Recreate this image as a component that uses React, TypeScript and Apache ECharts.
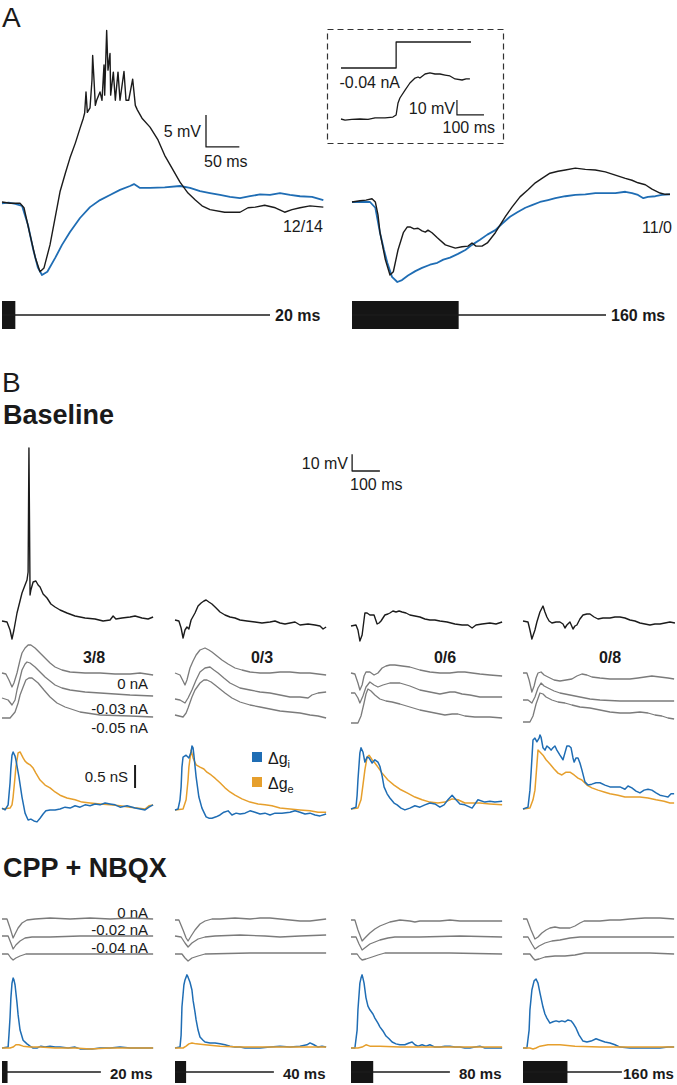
import React, { useEffect, useRef } from "react";
import * as echarts from "echarts";

// ---------------- Panel A (time in ms, membrane potential in mV relative to rest) ----------------
const aLeftBlack = [[0,0],[12,-0.2],[27,-0.2],[33,-0.9],[42,-5.1],[50,-8.7],[57,-10.9],[63,-10.3],[72,-6.7],[80,-2.3],[87,1.6],[95,4.5],[102,6.9],[110,9.2],[117,11.5],[122,13.1],[124,13.9],[126,17.2],[128,14.0],[132,14.7],[135,19.1],[136,22.9],[138,19.1],[140,15.1],[142,15.9],[147,17.2],[150,15.9],[153,21.4],[154,16.7],[157,26.8],[159,20.6],[162,23.2],[163,16.7],[167,20.3],[170,15.9],[174,20.3],[177,15.9],[183,20.4],[186,15.9],[190,15.9],[196,19.2],[200,15.1],[203,14.4],[210,13.1],[222,11.7],[234,9.7],[244,7.3],[255,5.3],[267,3.1],[279,1.4],[290,0.3],[300,-0.6],[312,-1.2],[334,-1.6],[357,-1.6],[369,-0.9],[380,-0.8],[394,-0.5],[410,-0.9],[424,-1.6],[435,-1.2],[447,-0.9],[462,-0.6],[482,-0.8]];
const aLeftBlue = [[0,-0.2],[10,-0.1],[20,-0.3],[30,-0.6],[39,-3.6],[47,-7.5],[54,-10.3],[60,-11.4],[68,-10.9],[80,-8.7],[90,-6.7],[102,-4.7],[117,-2.5],[132,-0.8],[147,0.3],[162,1.1],[177,1.9],[192,2.5],[198,2.8],[207,2.2],[222,2.2],[244,2.3],[267,2.5],[282,2.2],[297,1.7],[312,1.4],[327,1.1],[342,0.8],[357,0.6],[372,0.9],[387,1.2],[402,1.1],[417,1.4],[432,1.1],[447,0.9],[465,0.8],[482,0.3]];
const aRightBlack = [[0,0],[12,0.2],[21,0.3],[30,0.5],[35,0],[39,-2.0],[42,-4.8],[50,-9.0],[57,-11.4],[62,-10.9],[69,-7.5],[77,-4.8],[83,-3.9],[87,-3.9],[93,-4.2],[99,-4.1],[105,-4.5],[110,-4.7],[114,-4.4],[120,-4.8],[128,-5.6],[140,-6.7],[155,-7.2],[165,-7.0],[174,-6.9],[180,-6.4],[186,-6.9],[195,-6.9],[203,-6.4],[215,-4.8],[230,-2.3],[240,-0.8],[252,0.8],[264,1.9],[275,3.0],[285,3.7],[297,4.5],[309,4.8],[320,5.0],[335,5.3],[350,5.1],[365,5.0],[380,4.7],[395,4.2],[410,3.7],[420,3.4],[429,3.0],[440,2.7],[450,2.0],[462,1.4],[470,1.2],[477,1.2]];
const aRightBlue = [[0,0],[12,0],[27,0],[35,-0.9],[42,-4.8],[48,-7.5],[53,-9.5],[60,-11.7],[68,-12.5],[75,-12.2],[84,-11.5],[95,-10.8],[105,-10.3],[117,-9.8],[128,-9.5],[137,-9.0],[147,-8.7],[159,-8.1],[170,-7.5],[180,-6.7],[192,-5.9],[203,-5.1],[215,-4.4],[225,-3.4],[237,-2.3],[248,-1.6],[260,-0.9],[270,-0.5],[282,0],[294,0.3],[305,0.6],[320,0.9],[335,1.1],[350,1.2],[365,1.4],[380,1.4],[395,1.4],[410,1.6],[420,1.4],[429,1.1],[437,0.6],[444,0.8],[455,0.9],[465,1.1],[477,1.2]];
const aCounts = ["12/14", "11/0"];
const aStimDur = [20, 160];
const aStimLabels = ["20 ms", "160 ms"];

// inset: current step (nA) and voltage response (mV)
const insetStep = [[0,-0.04],[204,-0.04],[204,0],[481,0]];
const insetResponse = [[0,0],[15,-0.7],[40,-0.3],[70,0],[100,-0.2],[126,0.7],[163,0.7],[192,1.3],[204,2.7],[211,10.7],[218,14.0],[237,19.3],[255,24.0],[274,27.3],[285,28.0],[292,27.3],[311,30.0],[329,30.7],[348,30.0],[366,30.0],[385,29.3],[403,28.7],[422,26.7],[448,26.0],[463,26.7],[477,26.7]];

// ---------------- Panel B, Baseline (ms, mV / nS) ----------------
const bCounts = ["3/8", "0/3", "0/6", "0/8"];
const bBlack20 = [[0,0],[18,-0.6],[29,-5.4],[36,-10.8],[43,-5.4],[54,4.8],[72,16.8],[83,21.6],[90,24.6],[94,29.4],[97,103.8],[101,15.6],[104,18.6],[112,23.4],[122,24],[130,21.6],[137,20.4],[148,16.2],[162,13.8],[176,10.2],[191,8.4],[209,6.6],[234,4.8],[263,3],[299,1.8],[335,1.2],[364,0],[389,0.6],[400,3],[410,1.2],[432,1.8],[461,2.4],[479,3],[504,1.8],[526,1.2],[544,2.4]];
const bBlack40 = [[0,0.6],[14,0],[22,-4.2],[29,-10.2],[36,-5.4],[43,-3.6],[50,-4.8],[58,0.6],[72,4.8],[83,9],[94,10.8],[104,12],[112,12.6],[122,11.4],[133,10.2],[148,7.8],[162,5.4],[180,3.6],[198,2.4],[216,1.8],[234,0.6],[259,0],[288,-0.6],[313,-1.2],[342,-0.6],[360,0],[378,-1.2],[396,-1.8],[414,-1.2],[432,-0.6],[450,-2.4],[479,-1.8],[504,-2.4],[522,-3],[533,-4.8],[544,-3.6]];
const bBlack80 = [[0,-3],[18,-2.4],[25,-5.4],[32,-12],[40,-8.4],[50,4.8],[58,4.8],[68,3.6],[83,3.6],[94,-1.8],[101,-1.2],[108,0],[122,3.6],[133,4.2],[140,4.8],[151,6],[162,5.4],[173,6],[184,5.4],[198,4.8],[212,3.6],[230,3],[248,2.4],[266,1.2],[284,0.6],[302,0.6],[320,0],[346,-0.6],[374,-1.8],[400,-2.4],[421,-2.4],[436,-4.2],[450,-2.4],[472,-1.8],[500,-1.2],[522,-1.8],[544,-0.6]];
const bBlack160 = [[0,0],[18,-0.6],[25,-5.4],[32,-10.8],[43,-5.4],[50,-0.6],[61,5.4],[72,9],[79,5.4],[86,2.4],[94,0],[104,-1.2],[119,-0.6],[133,-0.6],[144,-1.8],[151,-4.2],[158,-2.4],[169,-0.6],[180,-4.8],[187,-3],[194,-2.4],[205,1.2],[216,3.6],[230,4.2],[241,4.2],[256,2.4],[270,1.2],[288,1.8],[313,1.8],[331,2.4],[349,2.4],[367,1.8],[385,0.6],[403,0],[421,-1.2],[439,-1.8],[457,-2.4],[475,-1.8],[493,-1.8],[511,-1.2],[529,-0.6],[547,-1.2]];

const bGray20 = [
  [[0,0],[14,-0.6],[25,-4.2],[36,-8.4],[43,-6],[54,0],[65,7.8],[72,12],[83,15],[94,16.8],[104,16.8],[119,15],[137,12],[155,9],[173,6],[191,3.6],[216,1.8],[245,0.6],[299,0],[353,0],[407,-0.6],[461,-0.6],[497,0],[544,-1.2]],
  [[0,-15],[22,-16.2],[36,-19.2],[47,-16.2],[54,-10.2],[65,-3],[72,1.8],[83,5.4],[90,6.6],[101,6],[119,3.6],[137,0.6],[155,-2.4],[173,-4.8],[191,-7.2],[216,-9],[245,-10.2],[299,-11.4],[353,-12],[407,-12.6],[461,-13.2],[544,-13.8]],
  [[0,-27],[29,-27],[47,-23.4],[58,-18],[65,-13.2],[76,-8.4],[86,-4.2],[97,-3],[108,-3],[130,-6],[151,-10.2],[173,-14.4],[198,-18],[227,-20.4],[281,-23.4],[353,-25.2],[461,-25.8],[544,-26.4]],
];
const bGray40 = [
  [[0,0],[18,-1.2],[29,-4.8],[36,-7.2],[43,-4.2],[54,3],[65,7.2],[76,10.8],[90,13.8],[108,15],[122,13.8],[133,12.6],[151,10.2],[169,7.8],[191,5.4],[216,3],[241,1.8],[270,0.6],[306,0],[342,0],[378,0.6],[414,0.6],[450,0],[486,0],[515,-0.6],[544,-1.2]],
  [[0,-15.6],[18,-16.2],[36,-18],[47,-15],[61,-10.2],[76,-4.2],[90,0.6],[108,3],[126,3.6],[140,1.8],[155,0],[176,-3],[198,-6],[234,-9],[270,-10.2],[306,-11.4],[342,-12],[378,-13.2],[414,-14.4],[450,-14.4],[479,-15],[493,-13.2],[515,-12],[544,-11.4]],
  [[0,-25.2],[29,-26.4],[40,-24],[47,-21],[61,-14.4],[72,-10.2],[90,-6],[104,-4.2],[115,-4.2],[130,-5.4],[144,-7.2],[162,-9.6],[180,-12],[205,-15],[234,-17.4],[270,-19.2],[306,-20.4],[342,-21.6],[378,-22.8],[414,-23.4],[450,-24],[486,-25.2],[515,-25.8],[544,-27]],
];
const bGray80 = [
  [[0,0],[14,-0.6],[25,-6],[32,-10.2],[40,-7.2],[47,-1.8],[54,0.6],[68,0.6],[83,-1.2],[97,0],[112,3],[126,4.2],[140,4.8],[158,4.8],[184,4.2],[212,3.6],[248,1.8],[284,0.6],[320,0],[356,0],[385,0.6],[410,0.6],[436,0],[464,-0.6],[500,-1.2],[544,-1.8]],
  [[0,-12],[14,-12],[25,-15],[32,-18],[43,-13.8],[54,-8.4],[68,-5.4],[83,-7.2],[97,-8.4],[115,-7.2],[140,-6],[176,-6],[212,-7.8],[248,-10.2],[284,-11.4],[320,-12.6],[356,-11.4],[374,-11.4],[400,-12.6],[428,-13.2],[464,-14.4],[500,-14.4],[544,-14.4]],
  [[0,-30],[25,-30],[36,-25.8],[47,-18],[54,-12.6],[61,-9.6],[72,-10.8],[86,-13.2],[104,-15.6],[126,-16.8],[148,-17.4],[176,-18.6],[212,-20.4],[248,-22.2],[284,-23.4],[338,-25.2],[364,-24.6],[385,-24.6],[410,-25.8],[446,-26.4],[500,-26.4],[544,-27]],
];
const bGray160 = [
  [[0,0],[14,0],[22,-4.2],[32,-11.4],[40,-7.8],[47,-3],[54,0],[65,0.6],[76,-1.2],[90,-2.4],[112,-4.2],[133,-4.8],[155,-4.2],[176,-3.6],[194,-1.8],[212,-0.6],[230,-1.2],[248,-2.4],[277,-3],[313,-3.6],[349,-3.6],[385,-3.6],[414,-3],[439,-2.4],[464,-1.8],[493,-2.4],[522,-3],[544,-3.6]],
  [[0,-16.2],[18,-16.2],[32,-18],[43,-14.4],[54,-9],[65,-6],[76,-7.8],[90,-9],[112,-10.8],[133,-12],[169,-13.2],[205,-14.4],[241,-15.6],[277,-16.2],[349,-16.8],[457,-16.8],[544,-16.8]],
  [[0,-29.4],[25,-29.4],[36,-25.8],[47,-18.6],[61,-12],[72,-12.6],[83,-14.4],[104,-16.2],[126,-17.4],[151,-18],[176,-19.2],[205,-20.4],[241,-21],[277,-22.2],[313,-23.4],[349,-24],[385,-24],[421,-23.4],[450,-24],[475,-25.2],[500,-25.8],[522,-27],[544,-27.6]],
];
const bHolding = ["0 nA", "-0.03 nA", "-0.05 nA"];

const bGi = [
  [[0,0.02],[11,-0.02],[22,0.09],[29,0.57],[32,0.89],[36,1.17],[40,1.24],[47,1.15],[50,1.07],[61,0.70],[72,0.26],[83,-0.09],[94,-0.24],[104,-0.22],[115,-0.26],[126,-0.28],[137,-0.20],[148,-0.11],[158,-0.04],[173,-0.02],[191,-0.02],[209,0],[227,0.04],[245,0.02],[263,0.07],[281,0.04],[299,0.09],[317,0.07],[335,0.11],[353,0.09],[371,0.13],[389,0.11],[407,0.09],[425,0.04],[450,0.07],[479,0.02],[497,0],[515,-0.02],[529,0.04],[544,0.09]],
  [[0,-0.02],[11,0],[18,0.2],[22,0.48],[25,0.91],[29,1.13],[40,1.17],[50,1.11],[58,1.24],[61,1.37],[65,1.33],[68,1.17],[76,0.70],[86,0.26],[97,0.02],[112,-0.17],[122,-0.20],[133,-0.20],[148,-0.17],[162,-0.13],[176,-0.07],[191,-0.04],[205,-0.13],[220,-0.09],[234,-0.11],[252,-0.09],[270,-0.04],[288,-0.07],[306,-0.11],[324,-0.09],[342,-0.13],[360,-0.09],[385,-0.09],[414,-0.07],[432,-0.04],[450,-0.07],[468,-0.11],[486,-0.09],[504,-0.13],[522,-0.15],[544,-0.11]],
  [[0,0],[18,0.04],[22,0.30],[25,0.63],[32,1.22],[36,1.33],[43,1.24],[50,1.02],[58,1.13],[65,1.11],[76,1.0],[86,1.07],[97,1.02],[104,0.93],[112,0.72],[119,0.48],[130,0.33],[140,0.24],[155,0.13],[166,0.09],[180,0.02],[194,-0.02],[212,0.02],[230,0.07],[248,0.04],[266,0.09],[284,0.13],[302,0.11],[320,0.04],[335,0.09],[349,0.2],[364,0.30],[378,0.2],[392,0.11],[410,0.09],[436,0.02],[457,0.2],[482,0.15],[500,0.17],[518,0.15],[544,0.17]],
  [[0,0],[18,0.04],[25,0.41],[29,0.78],[36,1.50],[43,1.54],[50,1.46],[58,1.54],[61,1.61],[65,1.56],[72,1.33],[79,1.28],[86,1.37],[94,1.33],[101,1.28],[108,1.33],[115,1.37],[122,1.28],[133,1.17],[144,1.07],[151,1.22],[158,1.37],[166,1.37],[173,1.33],[180,1.11],[184,1.02],[191,1.11],[198,1.11],[205,1.0],[212,0.85],[223,0.59],[234,0.52],[248,0.54],[263,0.57],[277,0.57],[295,0.52],[313,0.48],[331,0.48],[349,0.48],[367,0.43],[378,0.50],[392,0.46],[407,0.39],[421,0.35],[436,0.41],[450,0.43],[464,0.41],[479,0.35],[493,0.30],[508,0.28],[522,0.26],[533,0.33],[544,0.33]],
];
const bGe = [
  [[0,0],[29,0.02],[36,0.09],[40,0.26],[47,0.70],[50,0.91],[58,1.22],[65,1.24],[76,1.11],[83,1.04],[90,1.0],[101,0.96],[112,0.89],[122,0.78],[137,0.63],[155,0.52],[173,0.46],[191,0.37],[209,0.30],[234,0.24],[263,0.2],[288,0.15],[317,0.13],[353,0.11],[389,0.09],[425,0.07],[461,0.04],[486,0.02],[515,0],[529,0.07],[544,0.09]],
  [[0,-0.02],[29,0],[40,0.2],[47,0.63],[50,0.91],[58,1.28],[65,1.11],[76,0.96],[90,0.91],[104,0.87],[115,0.80],[130,0.74],[144,0.67],[162,0.57],[180,0.46],[198,0.37],[216,0.30],[241,0.22],[270,0.15],[299,0.11],[324,0.09],[349,0.07],[378,0.02],[414,0],[450,-0.02],[486,-0.04],[515,-0.07],[544,-0.07]],
  [[0,0],[25,0.02],[36,0.2],[43,0.52],[50,0.85],[58,1.13],[65,1.17],[76,1.07],[86,1.0],[97,0.91],[112,0.78],[133,0.63],[155,0.52],[176,0.43],[202,0.35],[230,0.26],[256,0.2],[284,0.15],[313,0.13],[338,0.15],[364,0.22],[385,0.2],[410,0.13],[436,0.13],[464,0.13],[500,0.11],[544,0.09]],
  [[0,0],[25,0.02],[36,0.2],[43,0.41],[50,0.96],[54,1.28],[61,1.24],[72,1.17],[83,1.07],[97,0.98],[112,0.87],[126,0.78],[140,0.74],[155,0.80],[169,0.80],[184,0.74],[198,0.67],[212,0.63],[230,0.52],[248,0.46],[270,0.41],[292,0.37],[313,0.33],[342,0.30],[367,0.26],[392,0.26],[421,0.26],[450,0.24],[479,0.2],[508,0.17],[529,0.13],[544,0.13]],
];

// ---------------- Panel B, CPP + NBQX ----------------
const cGray = [
  [
    [[0,0],[18,0],[29,-5.4],[40,-11.4],[47,-9],[58,-5.4],[72,-2.4],[90,-0.6],[119,0],[173,0.6],[245,0],[317,0.6],[389,0],[461,0.6],[544,0]],
    [[0,-10.2],[22,-10.2],[32,-14.4],[40,-18],[50,-15.6],[65,-13.2],[83,-11.4],[108,-10.8],[173,-10.8],[281,-10.2],[389,-10.2],[544,-10.2]],
    [[0,-21],[22,-21],[32,-23.4],[40,-24.6],[50,-23.4],[65,-22.2],[86,-21],[173,-21],[353,-21],[544,-21]],
  ],
  [
    [[0,-0.6],[14,-0.6],[29,-6.6],[40,-11.4],[47,-13.2],[58,-10.2],[72,-6.6],[90,-3],[108,-1.2],[133,0],[162,0],[216,0.6],[270,0],[306,0.6],[342,0.6],[378,0],[414,-0.6],[450,-1.2],[486,-1.2],[515,-0.6],[544,0]],
    [[0,-10.2],[22,-10.8],[36,-14.4],[47,-16.8],[61,-14.4],[83,-12],[108,-10.8],[144,-10.2],[234,-9.6],[324,-10.2],[378,-10.8],[450,-10.2],[544,-9.6]],
    [[0,-21],[25,-21],[36,-23.4],[47,-25.2],[61,-23.4],[83,-22.2],[108,-21],[270,-20.4],[544,-20.4]],
  ],
  [
    [[0,-0.6],[14,-0.6],[25,-6.6],[40,-13.2],[50,-11.4],[68,-8.4],[86,-6],[104,-4.2],[122,-3],[140,-1.8],[158,-1.2],[176,-0.6],[212,-1.2],[230,-1.8],[248,-1.2],[284,-1.2],[320,-1.2],[356,-0.6],[392,-1.2],[428,-1.2],[464,-1.2],[500,-1.2],[544,-1.2]],
    [[0,-10.8],[18,-10.8],[29,-15],[40,-18.6],[54,-16.8],[68,-15],[86,-13.8],[104,-12.6],[133,-11.4],[158,-10.8],[248,-10.8],[392,-10.2],[544,-10.8]],
    [[0,-21],[22,-21],[32,-23.4],[40,-24.6],[54,-24],[76,-22.8],[97,-21.6],[122,-20.4],[212,-20.4],[356,-20.4],[544,-21]],
  ],
  [
    [[0,0],[14,0],[29,-6.6],[43,-12],[54,-10.8],[68,-8.4],[83,-6.6],[97,-5.4],[115,-4.8],[133,-5.4],[155,-5.4],[169,-5.4],[187,-4.2],[205,-2.4],[220,-1.2],[241,-1.2],[277,-1.2],[313,-0.6],[349,-0.6],[385,0],[439,0.6],[493,0.6],[544,0]],
    [[0,-10.8],[18,-10.8],[32,-15],[43,-18],[58,-16.2],[79,-14.4],[104,-13.2],[133,-12.6],[169,-11.4],[205,-10.8],[277,-10.8],[385,-10.8],[544,-10.8]],
    [[0,-21],[25,-21],[36,-23.4],[43,-24.6],[58,-24],[79,-22.8],[115,-22.2],[151,-22.2],[187,-21.6],[223,-20.4],[277,-20.4],[349,-20.4],[457,-20.4],[544,-21]],
  ],
];
const cHolding = ["0 nA", "-0.02 nA", "-0.04 nA"];
const cGi = [
  [[0,0],[22,0.02],[25,0.28],[29,0.67],[32,1.09],[36,1.41],[40,1.52],[43,1.48],[47,1.37],[54,0.98],[58,0.72],[65,0.39],[76,0.17],[90,0.09],[101,0.04],[112,0],[126,0],[140,0.04],[155,0.02],[173,0.04],[191,0.02],[209,0.02],[238,0],[263,0.02],[281,-0.02],[302,-0.02],[324,-0.02],[353,0],[389,0],[425,0.02],[461,0],[497,0],[544,0]],
  [[0,0],[18,0.02],[22,0.28],[25,0.89],[32,1.37],[36,1.48],[43,1.59],[47,1.54],[54,1.43],[61,1.26],[65,1.04],[72,0.78],[76,0.61],[83,0.39],[90,0.24],[101,0.17],[108,0.13],[126,0.11],[144,0.11],[162,0.09],[180,0.07],[198,0.04],[216,0.02],[234,0.02],[252,0],[277,0],[306,0],[342,0.02],[378,0.04],[414,0.02],[450,0.04],[475,0.07],[486,0.11],[500,0.07],[515,0.02],[529,0.04],[544,0.02]],
  [[0,0],[14,0],[22,0.39],[25,0.83],[32,1.41],[36,1.52],[40,1.59],[43,1.52],[47,1.41],[54,1.09],[61,0.91],[68,0.83],[79,0.74],[86,0.65],[97,0.54],[104,0.46],[115,0.37],[126,0.26],[137,0.2],[148,0.13],[162,0.09],[176,0.07],[194,0.07],[209,0.11],[220,0.13],[230,0.07],[241,0.04],[256,0.07],[270,0.04],[284,0.07],[302,0.02],[320,0.02],[338,0.04],[356,0.04],[374,0.02],[392,0.02],[410,0],[428,0],[446,0.02],[464,0.04],[482,0],[500,0],[522,0],[544,0]],
  [[0,0],[14,0],[22,0.39],[25,0.83],[32,1.26],[40,1.46],[47,1.50],[54,1.41],[61,1.20],[72,0.89],[79,0.74],[86,0.65],[97,0.54],[108,0.57],[119,0.59],[130,0.57],[140,0.59],[151,0.57],[162,0.61],[173,0.59],[180,0.54],[191,0.43],[202,0.28],[216,0.15],[230,0.13],[245,0.15],[263,0.2],[277,0.17],[295,0.13],[313,0.11],[331,0.07],[349,0.02],[385,0],[421,0],[457,0],[493,0],[522,0.02],[544,0.02]],
];
const cGe = [
  [[0,0],[29,0],[40,0.02],[50,0.07],[61,0.07],[76,0.04],[101,0.02],[137,0.02],[191,0],[263,0],[317,-0.02],[389,0],[461,0],[544,0]],
  [[0,0],[29,0],[40,0.04],[50,0.09],[61,0.11],[76,0.09],[108,0.07],[162,0.04],[234,0.02],[306,0.02],[378,0.02],[450,0.02],[544,0.02]],
  [[0,0],[25,0],[40,0.02],[54,0.07],[68,0.04],[104,0.04],[176,0.02],[248,0.02],[320,0.02],[392,0.02],[464,0.02],[544,0.02]],
  [[0,0],[25,0],[36,-0.02],[47,0],[61,0.04],[90,0.07],[133,0.07],[187,0.04],[277,0.02],[421,0.02],[544,0.02]],
];
const bStimDur = [20, 40, 80, 160];
const bStimLabels = ["20 ms", "40 ms", "80 ms", "160 ms"];

// ---------------- layout / style constants ----------------
const FONT = '"Liberation Sans", Arial, Helvetica, sans-serif';
const BLUE = "#1f6db4";
const ORANGE = "#e69f2c";
const GRAY = "#7b7b7b";
const BLACK = "#1b1b1b";
const B_X0 = [2, 175, 351, 523];
const B_W = 544 / 3.6;
const B_LABEL_X = [110, 283, 459, 623];
const B_COUNT_X = [94, 262, 445, 610];

export default function App() {
  const ref = useRef<HTMLDivElement>(null);
  useEffect(() => {
    if (!ref.current) return;
    const chart = echarts.init(ref.current, null, { renderer: "svg" });
    const grids: any[] = [];
    const xAxes: any[] = [];
    const yAxes: any[] = [];
    const series: any[] = [];
    const graphic: any[] = [];

    const panel = (left: number, top: number, width: number, height: number, xmin: number, xmax: number, ymin: number, ymax: number) => {
      const i = grids.length;
      grids.push({ left, top, width, height, containLabel: false, show: false });
      xAxes.push({ type: "value", gridIndex: i, min: xmin, max: xmax, show: false });
      yAxes.push({ type: "value", gridIndex: i, min: ymin, max: ymax, show: false });
      return i;
    };
    const line = (gi: number, data: number[][], color: string, width: number, z = 2) => {
      series.push({
        type: "line", xAxisIndex: gi, yAxisIndex: gi, data, symbol: "none", showSymbol: false,
        lineStyle: { color, width, cap: "butt", join: "round" }, silent: true, z, clip: false,
      });
    };
    const stim = (gi: number, window: number, dur: number) => {
      series.push({
        type: "line", xAxisIndex: gi, yAxisIndex: gi, data: [[0, 0], [window, 0]], symbol: "none",
        lineStyle: { color: BLACK, width: 1.3 }, silent: true, clip: false,
        markArea: { silent: true, itemStyle: { color: "#151515" }, data: [[{ coord: [0, -1] }, { coord: [dur, 1] }]] },
      });
    };
    const text = (t: string, x: number, y: number, size: number, align = "left", weight = "normal", extra: any = {}) => {
      graphic.push({
        type: "text", x, y, silent: true,
        style: {
          text: t, fill: "#1a1a1a", fontSize: size, fontFamily: FONT, fontWeight: weight,
          align, textAlign: align, verticalAlign: "middle", textVerticalAlign: "middle", ...extra,
        },
      });
    };

    // ---- Panel A ----
    const aL = panel(2, 20, 482 / 1.5, 265, 0, 482, -12.97, 28.44);
    line(aL, aLeftBlue, BLUE, 1.8);
    line(aL, aLeftBlack, BLACK, 1.4, 3);
    line(aL, [[306, 13.6], [306, 8.6], [356, 8.6]], BLACK, 1.3);
    const aR = panel(352, 20, 477 / 1.5, 265, 0, 477, -12.97, 28.44);
    line(aR, aRightBlue, BLUE, 1.8);
    line(aR, aRightBlack, BLACK, 1.4, 3);
    const sL = panel(2, 301, 482 / 1.5, 28, 0, 482, -1, 1);
    stim(sL, 402, aStimDur[0]);
    const sR = panel(352, 301, 477 / 1.5, 28, 0, 477, -1, 1);
    stim(sR, 381, aStimDur[1]);
    // inset
    const iS = panel(341, 37, 560 / 3.7, 36, 0, 560, -0.0477, 0.0077);
    line(iS, insetStep, BLACK, 1.3);
    const iR = panel(341, 65, 560 / 3.7, 60, 0, 560, -4, 36);
    line(iR, insetResponse, BLACK, 1.3);
    line(iR, [[429, 12.7], [429, 2.7], [529, 2.7]], BLACK, 1.2);
    graphic.push({
      type: "rect", shape: { x: 327.5, y: 29.5, width: 176, height: 114 }, silent: true,
      style: { fill: "none", stroke: "#333", lineWidth: 1.2, lineDash: [6, 4] },
    });

    text("A", 2, 17, 28);
    text("5 mV", 201, 131, 16, "right");
    text("50 ms", 204, 161, 16);
    text(aCounts[0], 323, 226, 16, "right");
    text(aCounts[1], 672, 227, 16, "right");
    text("-0.04 nA", 400, 82, 16, "right");
    text("10 mV", 455, 108, 16, "right");
    text("100 ms", 495, 127, 16, "right");
    text(aStimLabels[0], 275, 315, 16, "left", "bold");
    text(aStimLabels[1], 611, 315, 16, "left", "bold");

    // ---- Panel B ----
    text("B", 2, 382, 28);
    text("Baseline", 3, 415, 27, "left", "bold");
    text("CPP + NBQX", 3, 868, 27, "left", "bold");

    const blacks = [bBlack20, bBlack40, bBlack80, bBlack160];
    const grays = [bGray20, bGray40, bGray80, bGray160];
    for (let c = 0; c < 4; c++) {
      const x0 = B_X0[c];
      const gB = panel(x0, 440, B_W, 205, 0, 544, -14.4, 108.6);
      line(gB, blacks[c], BLACK, 1.4);
      if (c === 2) line(gB, [[4, 100], [4, 90], [104, 90]], BLACK, 1.3);
      const gG = panel(x0, 640, B_W, 90, 0, 544, -34.2, 19.8);
      grays[c].forEach((d) => line(gG, d, GRAY, 1.3));
      const gC = panel(x0, 730, B_W, 100, 0, 544, -0.4565, 1.7174);
      line(gC, bGe[c], ORANGE, 1.5);
      line(gC, bGi[c], BLUE, 1.5, 3);
      if (c === 0) line(gC, [[479, 0.957], [479, 0.457]], BLACK, 2);
      const cG = panel(x0, 890, B_W, 85, 0, 544, -33.6, 17.4);
      cGray[c].forEach((d) => line(cG, d, GRAY, 1.3));
      const cC = panel(x0, 960, B_W, 98, 0, 544, -0.2174, 1.913);
      line(cC, cGi[c], BLUE, 1.5);
      line(cC, cGe[c], ORANGE, 1.5, 3);
      const sB = panel(x0, 1061, B_W, 22, 0, 544, -1, 1);
      stim(sB, 356, bStimDur[c]);
      text(bStimLabels[c], B_LABEL_X[c], 1073, 15, "left", "bold");
      text(bCounts[c], B_COUNT_X[c], 657, 16, "center", "bold");
    }
    text("10 mV", 348, 463, 16, "right");
    text("100 ms", 350, 484, 16);
    text(bHolding[0], 148, 683, 15, "right");
    text(bHolding[1], 148, 708, 15, "right");
    text(bHolding[2], 148, 727, 15, "right");
    text("0.5 nS", 128, 776, 15, "right");
    text(cHolding[0], 148, 912, 15, "right");
    text(cHolding[1], 148, 929, 15, "right");
    text(cHolding[2], 148, 947, 15, "right");

    // legend
    graphic.push({ type: "rect", silent: true, shape: { x: 252, y: 752, width: 10, height: 10 }, style: { fill: BLUE } });
    graphic.push({ type: "rect", silent: true, shape: { x: 252, y: 777, width: 10, height: 10 }, style: { fill: ORANGE } });
    const rich = {
      a: { fontSize: 16, fontFamily: FONT, fill: "#1a1a1a", lineHeight: 22, verticalAlign: "middle" },
      s: { fontSize: 11, fontFamily: FONT, fill: "#1a1a1a", lineHeight: 22, verticalAlign: "bottom", padding: [0, 0, 0, 0] },
    };
    text("{a|Δg}{s|i}", 268, 758, 16, "left", "normal", { rich });
    text("{a|Δg}{s|e}", 268, 783, 16, "left", "normal", { rich });

    chart.setOption({
      animation: false,
      backgroundColor: "#ffffff",
      grid: grids,
      xAxis: xAxes,
      yAxis: yAxes,
      series,
      graphic,
    });
    return () => chart.dispose();
  }, []);
  return <div ref={ref} style={{ position: "absolute", left: 0, top: 0, width: 677, height: 1085 }} />;
}
